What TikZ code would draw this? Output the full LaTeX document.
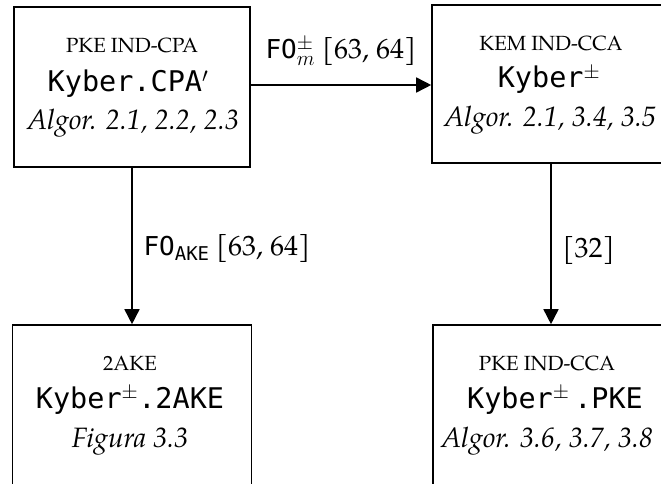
\documentclass[tikz,border=0pt]{standalone}
\usepackage{fontspec}
\setmainfont{TeX Gyre Pagella}
\setmonofont{DejaVu Sans Mono}
\usetikzlibrary{arrows.meta}
% typewriter names inside the transformation labels
\newcommand\schemett[1]{{\fontsize{26}{30}\selectfont\ttfamily #1}}
\newcommand\subtt[1]{\raisebox{-5pt}{\fontsize{19}{22}\selectfont\ttfamily #1}}
\tikzset{
  box/.style={draw, line width=1.6pt, rectangle, inner sep=0pt},
  hdr/.style={anchor=base, font=\fontsize{20.5}{24}\selectfont},
  scheme/.style={anchor=base, font=\fontsize{28.5}{32}\selectfont\ttfamily},
  refs/.style={anchor=base, font=\fontsize{28}{32}\selectfont\itshape},
  lbl/.style={anchor=base west, font=\fontsize{28}{32}\selectfont},
  arr/.style={line width=1.6pt, -{Triangle[length=15pt, width=15pt]}}
}
\begin{document}
\begin{tikzpicture}[x=1pt, y=-1pt]
\path[use as bounding box] (0,0) rectangle (661,484);
\clip (0,0) rectangle (661,484);

% boxes
\node[box, minimum width=236pt, minimum height=160pt] (cpa) at (132,87) {};
\node[box, minimum width=238pt, minimum height=158pt] (kem) at (551,84) {};
\node[box, minimum width=239pt, minimum height=166pt] (ake) at (132,408) {};
\node[box, minimum width=236pt, minimum height=166pt] (pke) at (551,408) {};

% box contents
\node[hdr]    (cpa1) at (132,53)  {PKE IND-CPA};
\node[scheme] (cpa2) at (128,92)  {Kyber.CPA$'$};
\node[refs]   (cpa3) at (133,130) {Algor. 2.1, 2.2, 2.3};

\node[hdr]    (kem1) at (551,51)  {KEM IND-CCA};
\node[scheme] (kem2) at (549,88)  {Kyber$^{\pm}$};
\node[refs]   (kem3) at (550,127) {Algor. 2.1, 3.4, 3.5};

\node[hdr]    (ake1) at (130,370) {2AKE};
\node[scheme] (ake2) at (130,408) {Kyber$^{\pm}$.2AKE};
\node[refs]   (ake3) at (130,447) {Figura 3.3};

\node[hdr]    (pke1) at (547,370) {PKE IND-CCA};
\node[scheme] (pke2) at (555,408) {Kyber$^{\pm}$\,.PKE};
\node[refs]   (pke3) at (547,447) {Algor. 3.6, 3.7, 3.8};

% transformations
\draw[arr] (cpa.east |- 0,85) -- (kem.west |- 0,85);
\draw[arr] (cpa.south) -- (ake.north);
\draw[arr] (kem.south) -- (pke.north);

\node[lbl] (l1) at (262,59)  {\schemett{FO}$^{\pm}_{m}$ [63, 64]};
\node[lbl] (l2) at (140,255) {\schemett{FO}\subtt{AKE} [63, 64]};
\node[lbl] (l3) at (559,257) {[32]};
\end{tikzpicture}
\end{document}
